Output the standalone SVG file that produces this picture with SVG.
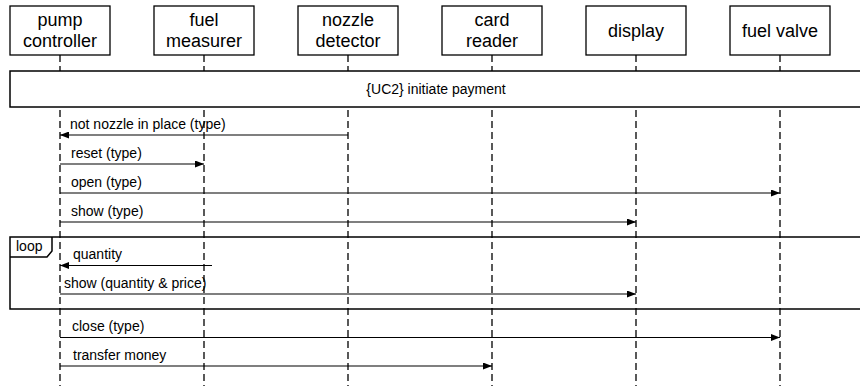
<svg xmlns="http://www.w3.org/2000/svg" width="860" height="386" viewBox="0 0 860 386">
  <style>
    text { font-family: "Liberation Sans", Arial, Helvetica, sans-serif; fill: #000; }
    .box { fill: #fff; stroke: #000; stroke-width: 1.3; }
    .name { font-size: 18px; text-anchor: middle; }
    .life { stroke: #000; stroke-width: 1.3; stroke-dasharray: 7 4; fill: none; }
    .frame { stroke: #000; stroke-width: 1.5; }
    .msg { stroke: #000; stroke-width: 1.2; fill: none; marker-end: url(#head); }
    .lbl { font-size: 14px; }
  </style>
  <defs>
    <marker id="head" markerUnits="userSpaceOnUse" markerWidth="9" markerHeight="7" refX="9" refY="3.5" orient="auto">
      <path d="M0,0 L9,3.5 L0,7 z" fill="#000"/>
    </marker>
  </defs>

  <!-- lifelines -->
  <g id="lifelines">
    <line class="life" x1="60" y1="55" x2="60" y2="386"/>
    <line class="life" x1="204" y1="55" x2="204" y2="386"/>
    <line class="life" x1="348" y1="55" x2="348" y2="386"/>
    <line class="life" x1="492" y1="55" x2="492" y2="386"/>
    <line class="life" x1="636" y1="55" x2="636" y2="386"/>
    <line class="life" x1="780" y1="55" x2="780" y2="386"/>
  </g>

  <!-- interaction use frame -->
  <g id="uc2">
    <rect class="frame" x="10" y="71" width="856" height="36" fill="#fff"/>
    <text class="lbl" x="436" y="94" text-anchor="middle">{UC2} initiate payment</text>
  </g>

  <!-- loop fragment -->
  <g id="loop">
    <rect class="frame" x="10" y="237" width="856" height="72" fill="none"/>
    <path class="frame" d="M10,257 L47,257 L52,251 L52,237" fill="none"/>
    <text class="lbl" x="16" y="251">loop</text>
  </g>

  <!-- messages -->
  <g id="messages">
    <line class="msg" x1="348" y1="135" x2="60" y2="135"/>
    <text class="lbl" x="70" y="129">not nozzle in place (type)</text>

    <line class="msg" x1="60" y1="164" x2="204" y2="164"/>
    <text class="lbl" x="71" y="158">reset (type)</text>

    <line class="msg" x1="60" y1="193" x2="780" y2="193"/>
    <text class="lbl" x="71" y="187">open (type)</text>

    <line class="msg" x1="60" y1="222" x2="636" y2="222"/>
    <text class="lbl" x="71" y="216">show (type)</text>

    <line class="msg" x1="212" y1="265.5" x2="60" y2="265.5"/>
    <text class="lbl" x="73" y="259">quantity</text>

    <line class="msg" x1="60" y1="294" x2="636" y2="294"/>
    <text class="lbl" x="64" y="288">show (quantity &amp; price)</text>

    <line class="msg" x1="60" y1="337.5" x2="780" y2="337.5"/>
    <text class="lbl" x="72" y="331">close (type)</text>

    <line class="msg" x1="60" y1="366" x2="492" y2="366"/>
    <text class="lbl" x="73" y="360">transfer money</text>
  </g>

  <!-- participants -->
  <g id="pump-controller">
    <rect class="box" x="10" y="6" width="100" height="49"/>
    <text class="name" x="60" y="26">pump</text>
    <text class="name" x="60" y="47">controller</text>
  </g>
  <g id="fuel-measurer">
    <rect class="box" x="154" y="6" width="100" height="49"/>
    <text class="name" x="204" y="26">fuel</text>
    <text class="name" x="204" y="47">measurer</text>
  </g>
  <g id="nozzle-detector">
    <rect class="box" x="298" y="6" width="100" height="49"/>
    <text class="name" x="348" y="26">nozzle</text>
    <text class="name" x="348" y="47">detector</text>
  </g>
  <g id="card-reader">
    <rect class="box" x="442" y="6" width="100" height="49"/>
    <text class="name" x="492" y="26">card</text>
    <text class="name" x="492" y="47">reader</text>
  </g>
  <g id="display">
    <rect class="box" x="586" y="6" width="100" height="49"/>
    <text class="name" x="636" y="37">display</text>
  </g>
  <g id="fuel-valve">
    <rect class="box" x="730" y="6" width="100" height="49"/>
    <text class="name" x="780" y="37">fuel valve</text>
  </g>
</svg>
